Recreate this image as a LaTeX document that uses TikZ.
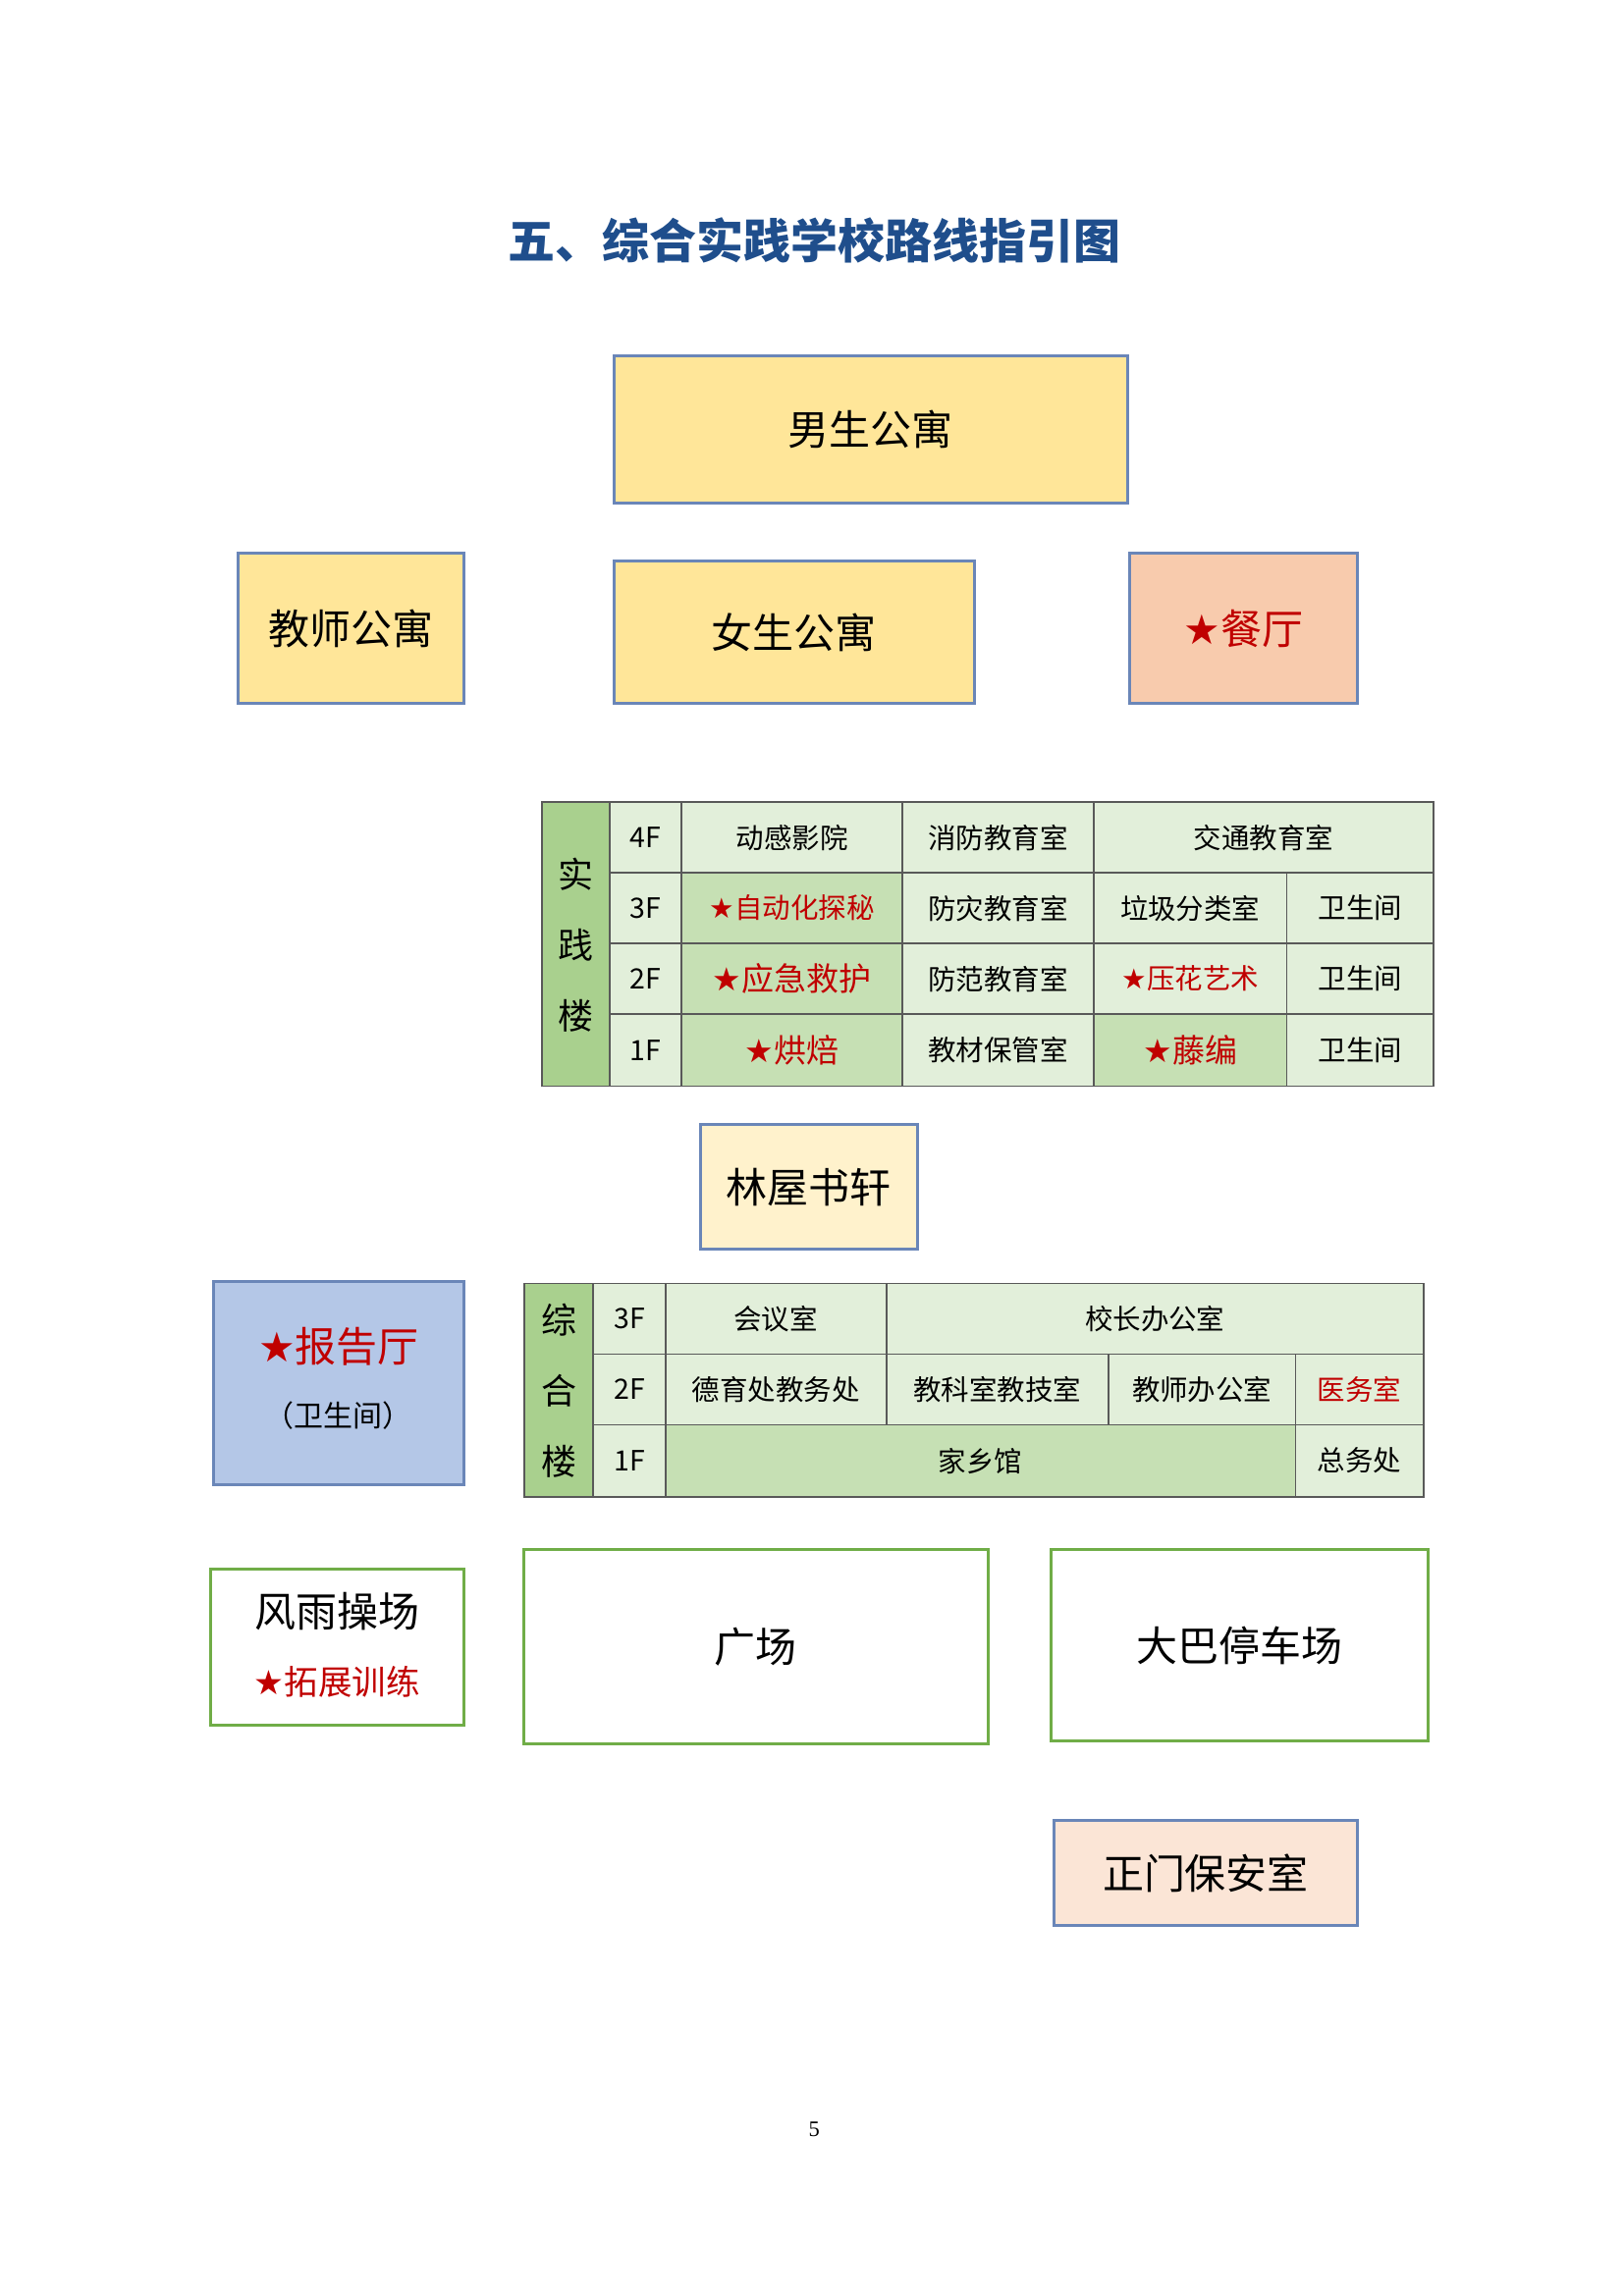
\documentclass[tikz,border=0pt]{standalone}
\usepackage{fontspec}
\setmainfont{Noto Sans CJK SC}
\newfontfamily\sym{DejaVu Sans}
\newfontfamily\pagefont{Liberation Serif}
\definecolor{ttl}{HTML}{1F4E8C}
\definecolor{yel}{HTML}{FFE699}
\definecolor{lyel}{HTML}{FFF2CC}
\definecolor{sal}{HTML}{F8CBAD}
\definecolor{lsal}{HTML}{FBE5D6}
\definecolor{blu}{HTML}{B4C7E7}
\definecolor{bord}{HTML}{6A86B8}
\definecolor{gbord}{HTML}{70AD47}
\definecolor{g1}{HTML}{A9D08E}
\definecolor{g2}{HTML}{E2EFDA}
\definecolor{g3}{HTML}{C6E0B4}
\definecolor{rd}{HTML}{C00000}
\newcommand\st{{\sym ★}}
\newcommand\tcell[7]{\path[draw=gray!70!black,line width=0.6pt,fill=#6] (#2,#3) rectangle (#4,#5) node[midway,inner sep=0pt] (#1) {#7};}
\tikzset{box/.style={draw=bord,line width=1pt},gbox/.style={draw=gbord,line width=1pt},tx/.style={font=\fontsize{9.5}{11}\selectfont},big/.style={font=\fontsize{14}{16}\selectfont}}
\begin{document}
\begin{tikzpicture}[x=0.5pt,y=-0.5pt]
\useasboundingbox (0,0) rectangle (1103,1560);
\node[text=ttl,font=\fontsize{16}{18}\selectfont\bfseries] (title) at (553,163) {五、综合实践学校路线指引图};
% top boxes
\path[box,fill=yel] (417,242) rectangle (766,342) node[midway,big] (nan) {男生公寓};
\path[box,fill=yel] (162,376) rectangle (315,478) node[midway,big] (jiao) {教师公寓};
\path[box,fill=yel] (417,381) rectangle (662,478) node[midway,big] (nv) {女生公寓};
\path[box,fill=sal] (767,376) rectangle (922,478) node[midway,big,text=rd] (can) {\st 餐厅};
% 实践楼
\begin{scope}[tx]
\tcell{sjl}{368}{545}{414}{738}{g1}{\fontsize{12}{24}\selectfont\begin{tabular}{@{}c@{}}实\\践\\楼\end{tabular}}
\tcell{f4}{414}{545}{463}{593}{g2}{4F}
\tcell{f3}{414}{593}{463}{641}{g2}{3F}
\tcell{f2}{414}{641}{463}{689}{g2}{2F}
\tcell{f1}{414}{689}{463}{738}{g2}{1F}
\tcell{a4}{463}{545}{613}{593}{g2}{动感影院}
\tcell{b4}{613}{545}{743}{593}{g2}{消防教育室}
\tcell{c4}{743}{545}{974}{593}{g2}{交通教育室}
\tcell{a3}{463}{593}{613}{641}{g3}{\color{rd}\st 自动化探秘}
\tcell{b3}{613}{593}{743}{641}{g2}{防灾教育室}
\tcell{c3}{743}{593}{874}{641}{g2}{垃圾分类室}
\tcell{d3}{874}{593}{974}{641}{g2}{卫生间}
\tcell{a2}{463}{641}{613}{689}{g3}{\color{rd}\fontsize{11}{12}\selectfont\st 应急救护}
\tcell{b2}{613}{641}{743}{689}{g2}{防范教育室}
\tcell{c2}{743}{641}{874}{689}{g2}{\color{rd}\st 压花艺术}
\tcell{d2}{874}{641}{974}{689}{g2}{卫生间}
\tcell{a1}{463}{689}{613}{738}{g3}{\color{rd}\fontsize{11}{12}\selectfont\st 烘焙}
\tcell{b1}{613}{689}{743}{738}{g2}{教材保管室}
\tcell{c1}{743}{689}{874}{738}{g3}{\color{rd}\fontsize{11}{12}\selectfont\st 藤编}
\tcell{d1}{874}{689}{974}{738}{g2}{卫生间}
\end{scope}
\path[box,fill=lyel] (476,764) rectangle (623,849) node[midway,big] (lin) {林屋书轩};
% 综合楼
\begin{scope}[tx]
\tcell{zhl}{356}{872}{403}{1017}{g1}{\fontsize{12}{24}\selectfont\begin{tabular}{@{}c@{}}综\\合\\楼\end{tabular}}
\tcell{z3}{403}{872}{452}{920}{g2}{3F}
\tcell{z2}{403}{920}{452}{968}{g2}{2F}
\tcell{z1}{403}{968}{452}{1017}{g2}{1F}
\tcell{hy}{452}{872}{602}{920}{g2}{会议室}
\tcell{xz}{602}{872}{967}{920}{g2}{校长办公室}
\tcell{dy}{452}{920}{602}{968}{g2}{德育处教务处}
\tcell{jk}{602}{920}{753}{968}{g2}{教科室教技室}
\tcell{js}{753}{920}{880}{968}{g2}{教师办公室}
\tcell{yw}{880}{920}{967}{968}{g2}{\color{rd}医务室}
\tcell{jx}{452}{968}{880}{1017}{g3}{家乡馆}
\tcell{zw}{880}{968}{967}{1017}{g2}{总务处}
\end{scope}
\path[box,fill=blu] (145,871) rectangle (315,1009);
\node[big,text=rd] (bg) at (230,915) {\st 报告厅};
\node[font=\fontsize{10}{12}\selectfont] (bgw) at (230,962) {（卫生间）};
\path[gbox] (143,1066) rectangle (315,1172);
\node[big] (fy) at (229,1095) {风雨操场};
\node[text=rd,font=\fontsize{11.5}{13}\selectfont] (tz) at (229,1143) {\st 拓展训练};
\path[gbox] (356,1053) rectangle (671,1185) node[midway,big] (gc) {广场};
\path[gbox] (714,1053) rectangle (970,1183) node[midway,big] (db) {大巴停车场};
\path[box,fill=lsal] (716,1237) rectangle (922,1308) node[midway,big] (zm) {正门保安室};
\node[font=\pagefont\fontsize{7.5}{9}\selectfont] (pg) at (553,1447) {5};
\end{tikzpicture}
\end{document}
